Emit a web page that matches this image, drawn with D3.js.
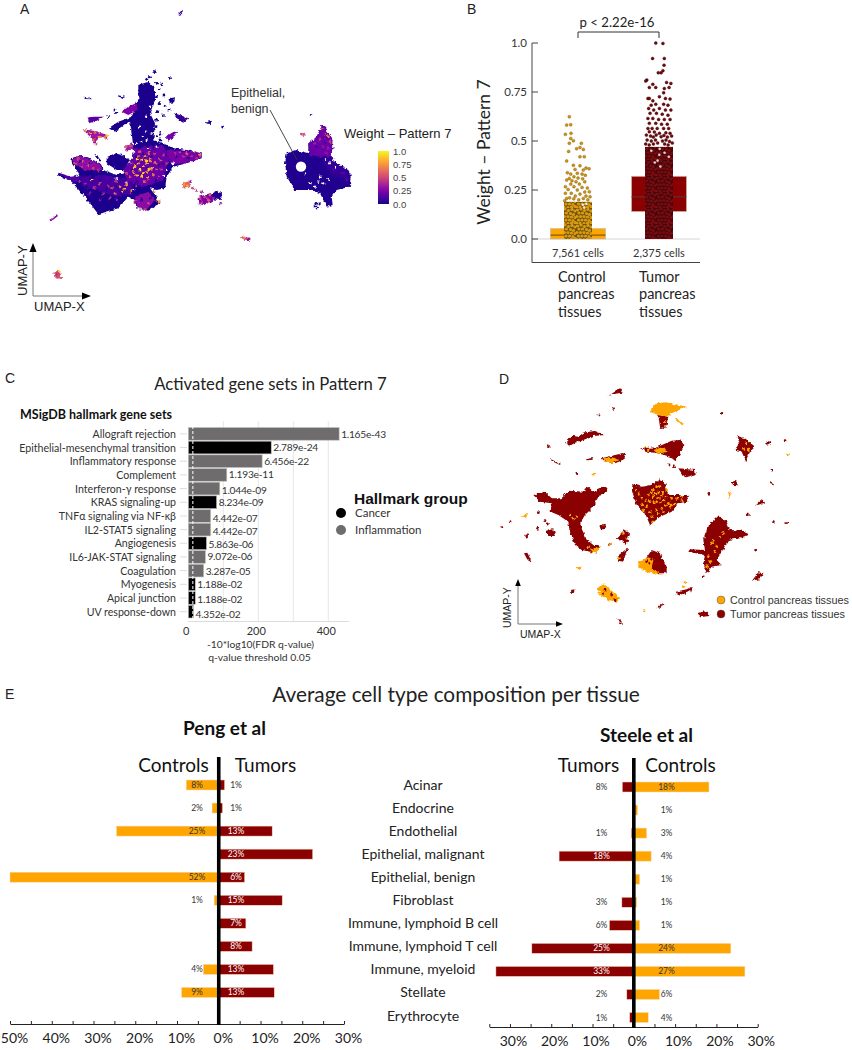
<!DOCTYPE html>
<html>
<head>
<meta charset="utf-8">
<script src="https://cdn.jsdelivr.net/npm/d3@7"></script>
<style>
body { margin: 0; background: #fff; }
text { font-family: Lato, "Noto Sans", sans-serif; fill: #222; }
.arial { font-family: "Liberation Sans", Arial, sans-serif; }
</style>
</head>
<body>
<svg id="chart" width="852" height="1050"></svg>
<script>
// colors
var colorControl = '#FFA500',
    colorTumor = '#8B0000',
    colorInflam = '#6e6c6c',
    colorCancer = '#000';

// Panel A, traced outlines of the UMAP islands: [weight, outline]
var umapA_regions = [
  [0.02, [[415,255],[445,245],[465,265],[465,300],[450,340],[465,370],[460,420],[490,430],[520,445],[560,450],[605,460],[605,475],[560,490],[520,500],[500,530],[495,565],[470,570],[450,565],[470,590],[478,610],[445,632],[410,625],[405,600],[385,590],[355,625],[295,643],[270,610],[232,565],[215,545],[175,525],[175,518],[215,530],[240,525],[215,490],[215,475],[240,465],[270,478],[300,490],[310,510],[350,525],[375,520],[395,480],[400,440],[395,400],[390,365],[345,395],[325,385],[355,365],[395,350],[415,300]]],
  [0.02, [[345,460],[365,465],[390,480],[375,510],[350,510],[320,490],[320,472]]],
  [0.19, [[400,445],[490,435],[510,470],[490,540],[430,560],[380,540],[370,510],[395,480]]],
  [0.24, [[500,450],[560,452],[605,462],[603,474],[560,488],[515,495]]],
  [0.30, [[215,478],[240,467],[270,480],[300,492],[305,510],[260,512],[225,495]]],
  [0.11, [[240,530],[300,525],[350,530],[400,545],[400,580],[350,590],[290,570],[250,565]]],
  [0.15, [[178,520],[215,532],[240,528],[235,545],[205,540]]],
  [0.28, [[405,590],[445,575],[465,600],[440,630],[412,622]]],
  [0.10, [[535,42],[546,29],[549,33],[540,45]]],
  [0.02, [[456,210],[468,212],[470,219],[458,218]]],
  [0.03, [[250,290],[272,293],[275,298],[255,297]]],
  [0.03, [[354,286],[375,290],[372,294],[356,291]]],
  [0.25, [[365,335],[385,320],[410,308],[412,330],[385,345]]],
  [0.16, [[262,352],[285,350],[312,350],[285,365],[268,370]]],
  [0.34, [[248,388],[285,393],[322,405],[326,418],[296,410],[288,433],[270,410]]],
  [0.02, [[505,295],[525,292],[522,310],[510,312]]],
  [0.07, [[522,340],[540,345],[565,355],[550,368],[530,358]]],
  [0.22, [[498,412],[515,398],[532,392],[522,412],[505,422]]],
  [0.36, [[372,440],[395,430],[402,448],[378,452]]],
  [0.02, [[618,365],[635,362],[636,372],[620,371]]],
  [0.30, [[145,662],[170,643],[174,648],[150,667]]],
  [0.60, [[545,550],[568,544],[572,562],[552,566]]],
  [0.03, [[630,585],[650,572],[666,582],[662,600],[635,598]]],
  [0.26, [[592,592],[635,578],[640,602],[610,616],[595,610]]],
  [0.45, [[720,709],[735,712],[752,715],[750,722],[730,718]]],
  [0.50, [[158,815],[178,812],[186,834],[170,836]]],
  [0.03, [[860,460],[890,450],[925,460],[925,430],[950,410],[965,378],[975,378],[985,400],[997,420],[995,470],[1010,490],[1040,505],[1052,525],[1050,560],[1010,570],[995,590],[998,615],[980,620],[960,580],[935,570],[885,570],[860,530],[855,490]]],
  [0.20, [[925,432],[950,410],[965,378],[975,378],[985,400],[997,420],[995,470],[960,470],[930,465]]],
  [0.07, [[995,470],[1010,490],[1040,505],[1050,540],[1000,530],[965,480]]],
  [0.50, [[900,398],[912,400],[914,408],[902,406]]]
];

// Panel A, single cells: [x, y, weight]
var umapA_cells = [
  [405,500,.9],[415,490,.8],[425,480,.85],[435,470,.7],[420,510,.95],[430,500,.85],[440,490,.8],[450,480,.7],[410,525,.85],[425,530,.9],
  [440,515,.75],[455,505,.8],[465,490,.6],[445,535,.7],[460,525,.65],[470,510,.6],[400,515,.7],[415,470,.6],[445,460,.6],[390,530,.6],
  [480,480,.55],[475,530,.5],[435,545,.6],[420,455,.55],[465,460,.5],[490,465,.45],[500,490,.4],[485,510,.5],[395,490,.5],[380,520,.5],
  [430,520,.9],[412,478,.95],[447,508,.9],[438,482,.9],
  [365,575,.9],[372,568,.85],[360,560,.7],[345,580,.6],[335,565,.5],[350,545,.55],[325,560,.45],[300,550,.5],[275,538,.95],[285,565,.4],
  [310,580,.4],[255,550,.4],[240,545,.45],[380,555,.7],[395,575,.7],[410,560,.5],[330,595,.4],[300,600,.3],[350,600,.35],[270,580,.3],
  [470,600,.85],[462,575,.6],[478,605,.7],[445,610,.5],[420,625,.5],[435,628,.45],[405,608,.4],
  [235,475,.5],[250,485,.6],[265,495,.55],[280,505,.5],[245,500,.45],[225,490,.5],[295,510,.4],
  [255,392,.7],[270,400,.8],[285,398,.6],[300,410,.7],[320,408,.85],[315,415,.7],[280,420,.6],[288,432,.55],
  [540,455,.5],[560,460,.55],[585,455,.6],[600,465,.65],[575,470,.45],[550,470,.4],[590,475,.4],[525,460,.4],
  [378,440,.6],[390,440,.5],
  [552,552,.75],[562,558,.8],[572,545,.3],[555,560,.6],[580,565,.5],[590,572,.45],[605,575,.4],
  [600,595,.5],[615,590,.5],[630,585,.6],[605,608,.45],[640,595,.35],[625,600,.55],[598,610,.4],[662,610,.3],
  [725,712,.6],[733,714,.7],[745,717,.3],
  [165,818,.65],[178,815,.9],[172,825,.5],[180,832,.6],[168,822,.4],
  [965,385,.55],[985,410,.7],[975,400,.5],[990,425,.45],[960,420,.4],[945,430,.35],[970,440,.3],[985,445,.35],[955,450,.25],[980,460,.3],
  [1030,520,.2],[1000,510,.15],[1040,540,.2],
  // darker cells that break up the warmer patches
  [408,470,.04],[430,460,.05],[455,470,.05],[475,495,.06],[490,490,.05],[470,540,.05],[410,545,.05],[395,510,.05],[440,505,.1],[460,445,.05],
  [500,465,.06],[530,470,.05],[565,475,.05],[300,540,.03],[320,570,.03],[345,560,.03],[370,590,.03],[260,560,.03],[280,530,.03],[240,485,.06],
  [270,490,.08],[425,600,.06],[450,595,.08],[950,440,.05],[975,425,.08],[1000,445,.05],
  [440,238,.02],[448,232,.02],[470,250,.02],[485,252,.02],[508,235,.02],[478,268,.02],[492,285,.02],[470,290,.02],[478,310,.02],[495,320,.02],
  [507,330,.02],[472,335,.02],[490,348,.02],[470,360,.02],[468,380,.02],[482,400,.02],[480,420,.02],[470,410,.02],[345,330,.02],[350,340,.02],
  [325,350,.02],[290,470,.02],[300,480,.02],[668,381,.02],[932,343,.02],[945,618,.02],[952,625,.02],[948,610,.02],[958,612,.02]
];
var umapA_gaps = [
  [440,420],[455,400],[420,380],[470,440],[410,430],[425,425],[400,455],[435,395],[445,445],[450,320],[438,350],[428,410],[380,545],[400,570],[350,535],[490,525],[500,510],[520,490],
  [975,480],[990,490],[1000,480],[960,530],[945,560],[970,550],[985,540],[1020,495],[930,550],[915,520],[955,545],[1005,500]
];

// Panel A colour bar
var weightTicks = [0, 0.25, 0.5, 0.75, 1],
    weightTickLabels = ['0.0', '0.25', '0.5', '0.75', '1.0'];

// Panel B
var groups = ['Control', 'Tumor'],
    groupLabels = [['Control', 'pancreas', 'tissues'], ['Tumor', 'pancreas', 'tissues']],
    groupCounts = ['7,561 cells', '2,375 cells'],
    weightAxisTicks = [0, 0.25, 0.5, 0.75, 1],
    weightAxisLabels = ['0.0', '0.25', '0.5', '0.75', '1.0'],
    boxLow = [0, 0.14],
    boxMedian = [0.02, 0.215],
    boxHigh = [0.053, 0.32],
    denseTop = [0.19, 0.47];

// strip points above the dense part: [jitter, weight]
var controlCells = [
  [-.62,.624],[-.81,.581],[-.52,.583],[-.90,.534],[-.5,.539],[-.52,.513],[-.33,.501],[-.62,.488],[.24,.488],[.14,.467],[-.10,.461],[.38,.457],
  [-.67,.447],[.14,.420],[.45,.420],[-.81,.398],[-.33,.376],[.14,.374],[.57,.362],[.79,.359],[-.21,.355],[.38,.352],[-.76,.338],[-.52,.331],
  [-.05,.335],[.29,.331],[.52,.325],[-.62,.309],[-.29,.318],[0,.311],[.33,.307],[-.81,.301],[-.43,.297],[-.14,.292],[.48,.292],[-.52,.280],
  [.1,.280],[-.9,.267],[-.29,.267],[.29,.263],[.67,.260],[-.71,.253],[-.05,.250],[.48,.240],[.81,.241],[-.9,.233],[-.48,.233],[.14,.229],
  [-.19,.219],[.57,.219],[.86,.216],[-.81,.207],[.38,.207],[-.6,.21],[-.3,.205],[.05,.2],[.7,.2],[-.95,.195]
];
var tumorCells = [
  [-.23,1],[.28,.998],[-.46,.921],[.38,.921],[.36,.887],[.28,.859],[-.05,.848],[.15,.848],[-.87,.811],[-.95,.806],[-.44,.789],[.54,.799],
  [.85,.794],[-.69,.773],[-.23,.773],[.72,.773],[.38,.768],[.33,.746],[-.79,.717],[-.69,.717],[-.44,.705],[.46,.717],[.79,.714],[.03,.726],
  [-.56,.683],[-.23,.688],[.33,.688],[.64,.683],[-.74,.666],[-.38,.658],[.03,.666],[.46,.658],[.85,.658],[-.64,.641],[-.18,.641],[.23,.637],
  [.64,.632],[-.79,.615],[-.44,.615],[-.03,.610],[.38,.610],[.79,.610],[-.69,.590],[-.23,.590],[.18,.586],[.59,.586],[-.79,.564],[-.49,.564],
  [-.13,.564],[.33,.564],[.69,.564],[-.69,.547],[-.33,.546],[.03,.539],[.49,.542],[.79,.539],[-.9,.53],[-.6,.525],[-.4,.52],[-.2,.53],[.15,.522],
  [.35,.528],[.6,.52],[.9,.525],[-.85,.505],[-.55,.5],[-.25,.505],[.25,.5],[.5,.505],[.75,.498],[-.95,.485],[-.7,.48],[-.4,.485],[-.1,.49],[.4,.485],[.65,.48],[.95,.49]
];
var tumorGaps = [[.05,.46],[.02,.43],[-.1,.40],[.4,.44],[-.55,.45],[.7,.42],[.1,.37],[-.3,.39]];
var controlGaps = [[.35,.175],[.6,.18],[.45,.16]];

// irregular tile for the part of each strip where cells overlap completely
var denseTile = [[1.5,2],[5,1],[8.5,2.5],[12,1.5],[15,3],[3,5],[6.5,5],[10.5,5.5],[13.5,6.5],[1,8.5],[4.5,8.5],[8,8.5],[11.5,9],[15,9.5],[2.5,12],[6,12],[9.5,12],[13,12.5],[0.5,15],[4,15],[8,15.5],[11.5,15],[15,14.5]];

// Panel C
var hallmarkSets = ['Allograft rejection', 'Epithelial-mesenchymal transition', 'Inflammatory response', 'Complement', 'Interferon-γ response', 'KRAS signaling-up', 'TNFα signaling via NF-κβ', 'IL2-STAT5 signaling', 'Angiogenesis', 'IL6-JAK-STAT signaling', 'Coagulation', 'Myogenesis', 'Apical junction', 'UV response-down'],
    hallmarkGroups = ['Inflammation', 'Cancer', 'Inflammation', 'Inflammation', 'Inflammation', 'Cancer', 'Inflammation', 'Inflammation', 'Cancer', 'Inflammation', 'Inflammation', 'Cancer', 'Cancer', 'Cancer'],
    hallmarkScores = [431, 237, 211, 110, 90, 81, 64, 64, 52, 49, 44, 20, 20, 15],
    hallmarkLabels = ['1.165e-43', '2.789e-24', '6.456e-22', '1.193e-11', '1.044e-09', '8.234e-09', '4.442e-07', '4.442e-07', '5.863e-06', '9.072e-06', '3.287e-05', '1.188e-02', '1.188e-02', '4.352e-02'],
    hallmarkLabelNudge = [0, -1, 0, -1, 1, 0, 2, 1, 1, -1, 0, 0, 1, 2],
    scoreGrid = [100, 200, 300, 400],
    scoreTicks = [0, 200, 400],
    qThreshold = 13;

// Panel D, traced outlines in UMAP units
var umapD_tumor = [
  [[130,375],[165,365],[185,385],[215,385],[235,362],[285,365],[292,348],[310,365],[345,350],[355,362],[325,380],[310,410],[285,435],[270,460],[285,505],[310,525],[330,525],[318,550],[300,545],[275,540],[255,525],[238,480],[235,455],[205,435],[182,425],[185,400],[150,395]],
  [[428,342],[455,350],[480,345],[510,328],[525,340],[535,375],[598,375],[590,395],[565,400],[545,425],[510,440],[480,465],[465,430],[440,405],[425,360]],
  [[685,438],[710,455],[720,480],[765,483],[772,495],[750,505],[715,510],[695,545],[680,570],[695,585],[665,590],[650,610],[640,580],[645,555],[595,545],[600,538],[645,540],[640,510],[655,465]],
  [[485,540],[510,550],[530,590],[530,610],[505,610],[480,600],[465,570]],
  [[228,215],[245,197],[265,200],[285,187],[315,183],[345,195],[310,198],[280,210],[255,218],[235,230]],
  [[450,235],[500,232],[545,212],[570,210],[583,225],[570,255],[555,272],[540,260],[505,250],[470,245]],
  [[335,265],[375,255],[405,248],[400,270],[375,280],[345,275]],
  [[355,78],[390,55],[398,68],[370,72]],
  [[565,295],[615,300],[617,312],[590,322],[578,315]],
  [[742,198],[765,205],[795,230],[780,245],[768,275],[755,245],[737,240],[748,215]],
  [[825,220],[843,213],[843,220],[830,224]],
  [[288,268],[308,264],[308,269],[290,271]],
  [[183,268],[212,281],[210,285],[185,273]],
  [[168,482],[190,478],[198,498],[175,498]],
  [[328,467],[347,464],[347,478],[332,478]],
  [[375,505],[395,495],[400,478],[420,490],[412,510],[408,522],[395,512]],
  [[380,560],[405,540],[415,535],[405,555],[400,575],[385,572]],
  [[102,550],[112,548],[125,575],[110,565]],
  [[557,665],[590,658],[605,650],[600,665],[565,677]],
  [[786,632],[805,607],[820,610],[810,628]],
  [[625,728],[650,722],[658,738],[630,742]],
  [[723,337],[738,333],[746,346],[730,345]],
  [[795,405],[815,388],[825,398],[805,404]],
  [[840,337],[852,343],[850,346],[840,342]],
  [[243,660],[253,658],[253,668],[244,670]],
  [[500,715],[518,700],[520,704],[503,718]],
  [[382,746],[386,745],[396,760],[392,763]],
  [[505,135],[535,140],[530,165],[520,178],[510,170]]
];
var umapD_control = [
  [[495,100],[530,97],[590,110],[545,130],[535,140],[505,135],[490,130],[480,125]],
  [[555,145],[560,143],[582,163],[576,166]],
  [[445,575],[475,562],[490,570],[485,595],[510,610],[520,615],[470,607],[445,590]],
  [[490,240],[520,232],[530,245],[505,252]],
  [[340,265],[370,262],[385,270],[368,280],[345,275]],
  [[322,655],[340,640],[390,685],[380,698],[355,690],[330,675]],
  [[95,440],[115,428],[108,443]],
  [[258,592],[278,590],[268,600]],
  [[712,365],[722,370],[716,390]],
  [[305,312],[318,312],[318,316],[305,316]],
  [[300,548],[318,532],[328,528],[318,550]]
];
var umapD_tumorCells = [
  [370,115],[327,135],[696,130],[175,230],[260,310],[537,285],[553,290],[657,370],[885,212],[846,300],[60,455],[35,472],[145,428],[172,462],[143,475],
  [110,498],[165,452],[890,458],[850,455],[775,435],[797,540],[340,670],[345,660],[365,675],[375,690],
  [480,580],[495,575],[500,590],[470,575],[640,620],[410,515],[390,510],[360,523]
];
var umapD_controlCells = [
  [490,380],[475,375],[480,395],[510,350],[470,410],[500,420],[485,440],[545,385],[560,385],[520,425],[455,385],[445,370],[460,420],[490,455],[575,380],
  [575,392],[440,360],[530,360],[500,395],[515,415],[500,350],[490,360],
  [498,372],[506,366],[514,378],[522,390],[505,386],[492,398],[512,398],[526,406],[535,400],[545,405],[555,402],[540,412],[518,368],[528,380],[484,368],[468,392],[455,405],[478,425],[505,432],
  [680,530],[675,545],[660,575],[670,510],[690,500],[650,590],[655,560],[665,520],[700,490],
  [893,254],[462,722],[362,522],[410,505],[400,490],[385,565],[770,220],[760,235],[775,240],[490,125],[525,155],
  [260,440],[250,445],[240,435],[296,530],[305,540],[588,638],[580,650],[475,240],[465,232]
];

// Panel E
var cellTypes = ['Acinar', 'Endocrine', 'Endothelial', 'Epithelial, malignant', 'Epithelial, benign', 'Fibroblast', 'Immune, lymphoid B cell', 'Immune, lymphoid T cell', 'Immune, myeloid', 'Stellate', 'Erythrocyte'];
var pengControls = [7.8, 1.6, 24.5, 0, 50, 1.1, 0, 0, 3.7, 8.9, 0],
    pengTumors = [1.4, 0.9, 12.8, 22.5, 6.2, 15.2, 6.5, 8, 13.1, 13.3, 0],
    pengControlLabels = ['8%', '2%', '25%', '', '52%', '1%', '', '', '4%', '9%', ''],
    pengTumorLabels = ['1%', '1%', '13%', '23%', '6%', '15%', '7%', '8%', '13%', '13%', ''],
    steeleTumors = [2.8, 0, 0.6, 18.1, 0, 2.9, 5.9, 24.7, 33.4, 1.7, 1],
    steeleControls = [18.2, 0.9, 3.1, 4.2, 1.4, 0.7, 1.4, 23.5, 26.9, 6.2, 3.5],
    steeleTumorLabels = ['8%', '', '1%', '18%', '', '3%', '6%', '25%', '33%', '2%', '1%'],
    steeleControlLabels = ['18%', '1%', '3%', '4%', '1%', '1%', '1%', '24%', '27%', '6%', '4%'],
    pengTicks = d3.range(-50, 31, 5),
    steeleTicks = d3.range(-35, 31, 5);

var svg = d3.select('#chart');
var defs = svg.append('defs');

// slight wobble and softness so traced outlines look like clouds of cells
var rough = defs.append('filter').attr('id', 'rough')
    .attr('filterUnits', 'userSpaceOnUse')
    .attr('x', 0).attr('y', 0).attr('width', 852).attr('height', 1050);
rough.append('feTurbulence').attr('type', 'fractalNoise').attr('baseFrequency', 0.3).attr('numOctaves', 2).attr('seed', 4).attr('result', 'n');
rough.append('feDisplacementMap').attr('in', 'SourceGraphic').attr('in2', 'n').attr('scale', 4).attr('xChannelSelector', 'R').attr('yChannelSelector', 'G').attr('result', 'd');
rough.append('feGaussianBlur').attr('in', 'd').attr('stdDeviation', 0.3);

function label(x, y, str, size, opts) {
  opts = opts || {};
  var t = svg.append('text')
      .attr('x', x).attr('y', y)
      .attr('font-size', size)
      .attr('text-anchor', opts.anchor || 'start')
      .text(str);
  if (opts.cls) t.attr('class', opts.cls);
  if (opts.weight) t.attr('font-weight', opts.weight);
  if (opts.fill) t.style('fill', opts.fill);
  if (opts.spacing) t.style('letter-spacing', opts.spacing + 'px');
  if (opts.rotate) t.attr('transform', 'rotate(-90 ' + x + ' ' + y + ')');
  return t;
}

function umapArrows(x0, y0, x1, y1, headSize, stroke) {
  svg.append('path').attr('d', 'M' + x0 + ',' + y1 + 'V' + y0 + 'H' + x1)
      .attr('fill', 'none').attr('stroke', stroke).attr('stroke-width', 1);
  svg.append('path').attr('fill', '#000')
      .attr('d', 'M' + x0 + ',' + (y1 - headSize) + 'l' + (-headSize / 2.5) + ',' + headSize + 'h' + (headSize / 1.25) + 'z');
  svg.append('path').attr('fill', '#000')
      .attr('d', 'M' + (x1 + headSize) + ',' + y0 + 'l' + (-headSize) + ',' + (-headSize / 2.5) + 'v' + (headSize / 1.25) + 'z');
}

//
// A
//
var xA = d3.scaleLinear().domain([0, 1290]).range([0, 430]),
    yA = d3.scaleLinear().domain([0, 990]).range([0, 330]),
    lineA = d3.line().x(function(d) { return xA(d[0]); }).y(function(d) { return yA(d[1]); }).curve(d3.curveLinearClosed),
    gA = svg.append('g').attr('filter', 'url(#rough)');

gA.selectAll('path').data(umapA_regions).join('path')
    .attr('d', function(d) { return lineA(d[1]); })
    .attr('fill', function(d) { return d3.interpolatePlasma(d[0]); });
gA.selectAll('circle.cell').data(umapA_cells).join('circle').attr('class', 'cell')
    .attr('cx', function(d) { return xA(d[0]); }).attr('cy', function(d) { return yA(d[1]); })
    .attr('r', 1.4).attr('fill', function(d) { return d3.interpolatePlasma(d[2]); });
gA.selectAll('circle.gap').data(umapA_gaps).join('circle').attr('class', 'gap')
    .attr('cx', function(d) { return xA(d[0]); }).attr('cy', function(d) { return yA(d[1]); })
    .attr('r', 1.1).attr('fill', '#fff');

svg.append('circle').attr('cx', xA(903)).attr('cy', yA(500)).attr('r', 5.2).attr('fill', '#fff');
svg.append('line').attr('x1', 270).attr('y1', 110).attr('x2', 297).attr('y2', 160).attr('stroke', '#333').attr('stroke-width', 0.9);

label(231, 97, 'Epithelial,', 12.5, {cls: 'arial', fill: '#333'});
label(231, 113, 'benign', 12.5, {cls: 'arial', fill: '#333'});
label(344, 138, 'Weight – Pattern 7', 13, {cls: 'arial', fill: '#222'});

var barScale = d3.scaleLinear().domain([0, 1]).range([204, 151]);
var grad = defs.append('linearGradient').attr('id', 'plasma').attr('x1', 0).attr('y1', 1).attr('x2', 0).attr('y2', 0);
d3.range(0, 1.01, 0.1).forEach(function(t) {
  grad.append('stop').attr('offset', t).attr('stop-color', d3.interpolatePlasma(t));
});
svg.append('rect').attr('x', 378).attr('y', barScale(1)).attr('width', 11).attr('height', barScale(0) - barScale(1)).attr('fill', 'url(#plasma)');
weightTicks.forEach(function(t, i) {
  label(393, barScale(t) + 3.5, weightTickLabels[i], 9.5, {cls: 'arial', fill: '#444'});
});

umapArrows(33, 296, 82, 252, 9, '#777');
label(34, 311, 'UMAP-X', 13, {cls: 'arial', fill: '#222'});
label(27, 296, 'UMAP-Y', 13, {cls: 'arial', fill: '#222', rotate: true});

//
// B
//
var xB = d3.scalePoint().domain(groups).range([578, 659]),
    yB = d3.scaleLinear().domain([0, 1]).range([239, 43]),
    jitter = d3.scaleLinear().domain([-1, 1]).range([-14, 14]);

svg.append('line').attr('x1', 532).attr('x2', 700).attr('y1', yB(0)).attr('y2', yB(0)).attr('stroke', '#d5d5d5').attr('stroke-width', 1.2);

function dotPattern(id, ground, dot) {
  var p = defs.append('pattern').attr('id', id).attr('patternUnits', 'userSpaceOnUse').attr('width', 16).attr('height', 16);
  p.append('rect').attr('width', 16).attr('height', 16).attr('fill', ground);
  p.selectAll('circle').data(denseTile).join('circle')
      .attr('cx', function(d) { return d[0]; }).attr('cy', function(d) { return d[1]; })
      .attr('r', 1.6).attr('fill', dot);
}
dotPattern('denseControl', '#6d5310', '#dc9a10');
dotPattern('denseTumor', '#3e0608', '#780a10');

var groupColors = [colorControl, colorTumor],
    stripColors = ['#cf9214', '#6e0a0e'],
    stripEdges = ['#7d5f12', '#3e0608'],
    patterns = ['denseControl', 'denseTumor'];

groups.forEach(function(g, i) {
  var cx = xB(g);
  svg.append('rect').attr('x', cx - 27.5).attr('width', 55)
      .attr('y', yB(boxHigh[i])).attr('height', yB(boxLow[i]) - yB(boxHigh[i]))
      .attr('fill', groupColors[i]).attr('stroke', '#c9b9a9').attr('stroke-width', 0.7);
  svg.append('line').attr('x1', cx - 27.5).attr('x2', cx + 27.5).attr('y1', yB(boxMedian[i])).attr('y2', yB(boxMedian[i]))
      .attr('stroke', i ? '#5c3a3a' : '#5e4a10').attr('stroke-width', 1);
  svg.append('rect').attr('x', cx + jitter(-1)).attr('width', jitter(1) - jitter(-1))
      .attr('y', yB(denseTop[i])).attr('height', yB(0) - yB(denseTop[i]))
      .attr('fill', 'url(#' + patterns[i] + ')');
  label(cx, 257, groupCounts[i], 11, {anchor: 'middle', fill: '#333'});
  groupLabels[i].forEach(function(l, k) {
    label(cx - 20, 282 + k * 17.3, l, 14.5, {fill: '#222'});
  });
});

[controlCells, tumorCells].forEach(function(cells, i) {
  svg.append('g').selectAll('circle').data(cells).join('circle')
      .attr('cx', function(d) { return xB(groups[i]) + jitter(d[0]); })
      .attr('cy', function(d) { return yB(d[1]); })
      .attr('r', 1.5)
      .attr('fill', stripColors[i])
      .attr('stroke', stripEdges[i]).attr('stroke-width', 0.4);
});
[controlGaps, tumorGaps].forEach(function(cells, i) {
  svg.append('g').selectAll('circle').data(cells).join('circle')
      .attr('cx', function(d) { return xB(groups[i]) + jitter(d[0]); })
      .attr('cy', function(d) { return yB(d[1]); })
      .attr('r', 1.3).attr('fill', '#fff').attr('opacity', 0.8);
});

var axisB = d3.axisLeft(yB).tickValues(weightAxisTicks)
    .tickFormat(function(d, i) { return weightAxisLabels[i]; })
    .tickSize(0).tickPadding(5);
var gB = svg.append('g').attr('transform', 'translate(532,0)').call(axisB);
gB.select('.domain').remove();
gB.selectAll('text').attr('font-size', 11.5).style('font-family', 'Lato').style('fill', '#333');
svg.append('path').attr('d', 'M532,43V262.5H700').attr('fill', 'none').attr('stroke', '#444').attr('stroke-width', 1);
svg.selectAll('line.tickB').data(weightAxisTicks).join('line').attr('class', 'tickB')
    .attr('x1', 532).attr('x2', 538).attr('y1', function(d) { return yB(d); }).attr('y2', function(d) { return yB(d); })
    .attr('stroke', '#444');
svg.append('path').attr('d', 'M' + xB('Control') + ',38V32H' + xB('Tumor') + 'V38').attr('fill', 'none').attr('stroke', '#333');
label(617, 27, 'p < 2.22e-16', 13.2, {anchor: 'middle', fill: '#222'});
label(490, 152, 'Weight – Pattern 7', 17.5, {anchor: 'middle', fill: '#222', rotate: true});

//
// C
//
var xC = d3.scaleLinear().domain([0, 400]).range([188.3, 328.3]),
    yC = d3.scaleBand().domain(hallmarkSets).range([427.5, 618]).paddingInner(0.07);

svg.selectAll('line.gridC').data(scoreGrid).join('line').attr('class', 'gridC')
    .attr('x1', function(d) { return xC(d); }).attr('x2', function(d) { return xC(d); })
    .attr('y1', 421).attr('y2', 621).attr('stroke', '#e6e6e6').attr('stroke-width', 1);
svg.append('line').attr('x1', 188).attr('x2', 349).attr('y1', 621.5).attr('y2', 621.5).attr('stroke', '#dcdcdc').attr('stroke-width', 1.2);

svg.selectAll('rect.hall').data(hallmarkSets).join('rect').attr('class', 'hall')
    .attr('x', xC(0))
    .attr('y', function(d) { return yC(d); })
    .attr('width', function(d, i) { return xC(hallmarkScores[i]) - xC(0); })
    .attr('height', yC.bandwidth())
    .attr('fill', function(d, i) { return hallmarkGroups[i] === 'Cancer' ? colorCancer : colorInflam; })
    .attr('stroke', '#c4c4c4').attr('stroke-width', 0.6);

svg.append('line').attr('x1', xC(qThreshold)).attr('x2', xC(qThreshold)).attr('y1', 421).attr('y2', 621)
    .attr('stroke', '#fff').attr('stroke-width', 1).attr('stroke-dasharray', '3,2');

hallmarkSets.forEach(function(s, i) {
  var yc = yC(s) + yC.bandwidth() / 2;
  svg.append('line').attr('x1', 180).attr('x2', 187).attr('y1', yc).attr('y2', yc).attr('stroke', '#ddd');
  label(176, yc + 4, s, 10.6, {anchor: 'end', fill: '#333'});
  label(xC(hallmarkScores[i]) + 2, yc + 4 + hallmarkLabelNudge[i], hallmarkLabels[i], 10.2, {fill: '#333', spacing: -0.25});
});
scoreTicks.forEach(function(t) {
  label(xC(t) - 2, 635, t, 11, {anchor: 'middle', fill: '#333'});
});
label(260.5, 648, '-10*log10(FDR q-value)', 10.3, {anchor: 'middle', fill: '#333'});
label(259.5, 661, 'q-value threshold 0.05', 10.4, {anchor: 'middle', fill: '#333'});
label(20, 419, 'MSigDB hallmark gene sets', 12.5, {weight: 700, fill: '#111'});
label(270.5, 390, 'Activated gene sets in Pattern 7', 16.7, {anchor: 'middle', fill: '#222'});
label(354, 504, 'Hallmark group', 15.5, {cls: 'arial', weight: 700, fill: '#111'});
[['Cancer', colorCancer, 513], ['Inflammation', colorInflam, 530]].forEach(function(l) {
  svg.append('circle').attr('cx', 341).attr('cy', l[2]).attr('r', 5).attr('fill', l[1]);
  label(355, l[2] + 4, l[0], 11.5, {fill: '#333'});
});

//
// D
//
var xD = d3.scaleLinear().domain([0, 1086]).range([490, 852]),
    yD = d3.scaleLinear().domain([0, 870]).range([370, 660]),
    lineD = d3.line().x(function(d) { return xD(d[0]); }).y(function(d) { return yD(d[1]); }).curve(d3.curveLinearClosed),
    gD = svg.append('g').attr('filter', 'url(#rough)');

gD.append('g').selectAll('path').data(umapD_tumor).join('path').attr('d', lineD).attr('fill', colorTumor);
gD.append('g').selectAll('path').data(umapD_control).join('path').attr('d', lineD).attr('fill', colorControl);
gD.append('g').selectAll('circle').data(umapD_tumorCells).join('circle')
    .attr('cx', function(d) { return xD(d[0]); }).attr('cy', function(d) { return yD(d[1]); })
    .attr('r', 1.4).attr('fill', colorTumor);
gD.append('g').selectAll('circle').data(umapD_controlCells).join('circle')
    .attr('cx', function(d) { return xD(d[0]); }).attr('cy', function(d) { return yD(d[1]); })
    .attr('r', 1.3).attr('fill', colorControl);

umapArrows(518, 624, 556, 586, 7, '#777');
label(520, 638, 'UMAP-X', 10.5, {cls: 'arial', fill: '#222'});
label(511, 628, 'UMAP-Y', 10.5, {cls: 'arial', fill: '#222', rotate: true});
[['Control pancreas tissues', colorControl, 600], ['Tumor pancreas tissues', colorTumor, 614]].forEach(function(l) {
  svg.append('circle').attr('cx', 721).attr('cy', l[2]).attr('r', 4).attr('fill', l[1]).attr('stroke', '#555').attr('stroke-width', 0.5);
  label(730, l[2] + 4, l[0], 10.8, {cls: 'arial', fill: '#333'});
});

//
// E
//
var yE = d3.scalePoint().domain(cellTypes).range([785, 1015.5]);

function butterfly(cfg) {
  var x = d3.scaleLinear().domain(cfg.domain).range(cfg.range),
      g = svg.append('g');

  function side(values, labels, color, sign, labelX) {
    g.append('g').selectAll('rect').data(cellTypes).join('rect')
        .attr('x', function(d, i) { return sign < 0 ? x(-values[i]) : x(0); })
        .attr('y', function(d) { return yE(d) + cfg.barDy - 5; })
        .attr('width', function(d, i) { return Math.abs(x(values[i]) - x(0)); })
        .attr('height', function(d, i) { return values[i] > 0 ? 10 : 0; })
        .attr('fill', color).attr('stroke', '#f3dcc0').attr('stroke-width', 0.5);
    cellTypes.forEach(function(c, i) {
      if (!labels[i]) return;
      var reach = Math.abs(x(values[i]) - x(0)),
          inside = Math.abs(labelX - x(0)) < reach,
          onDark = inside && color === colorTumor;
      label(labelX, yE(c) + cfg.barDy + 3, labels[i], 8.5, {anchor: 'middle', fill: onDark ? '#fff' : '#333'});
    });
  }
  side(cfg.left, cfg.leftLabels, cfg.leftColor, -1, cfg.leftLabelX);
  side(cfg.right, cfg.rightLabels, cfg.rightColor, 1, cfg.rightLabelX);

  var axis = d3.axisBottom(x).tickValues(cfg.ticks)
      .tickFormat(function(d) { return d % 10 === 0 ? Math.abs(d) + '%' : ''; })
      .tickSizeInner(-3).tickSizeOuter(0).tickPadding(9);
  var ax = g.append('g').attr('transform', 'translate(0,' + cfg.axisY + ')').call(axis);
  ax.select('.domain').attr('stroke', '#222');
  ax.selectAll('line').attr('stroke', '#222');
  ax.selectAll('text').attr('font-size', 14).attr('dx', cfg.labelShift).style('font-family', 'Lato').style('fill', '#222');

  g.append('line').attr('x1', x(0)).attr('x2', x(0)).attr('y1', cfg.lineTop).attr('y2', cfg.axisY + 1)
      .attr('stroke', '#000').attr('stroke-width', 3.6);
}

butterfly({
  domain: [-50, 30], range: [10, 344], axisY: 1024, lineTop: 757, barDy: 0, labelShift: 4,
  ticks: pengTicks,
  left: pengControls, leftLabels: pengControlLabels, leftColor: colorControl, leftLabelX: 197,
  right: pengTumors, rightLabels: pengTumorLabels, rightColor: colorTumor, rightLabelX: 236
});
butterfly({
  domain: [-35, 30], range: [489.3, 757.7], axisY: 1027, lineTop: 758, barDy: 2, labelShift: 3,
  ticks: steeleTicks,
  left: steeleTumors, leftLabels: steeleTumorLabels, leftColor: colorTumor, leftLabelX: 601.5,
  right: steeleControls, rightLabels: steeleControlLabels, rightColor: colorControl, rightLabelX: 666.5
});

cellTypes.forEach(function(c) {
  label(423, yE(c) + 5, c, 14, {anchor: 'middle', fill: '#222'});
});
label(456, 702, 'Average cell type composition per tissue', 20.8, {anchor: 'middle', fill: '#222'});
label(224.5, 735, 'Peng et al', 19, {anchor: 'middle', weight: 700, fill: '#111'});
label(646.5, 742, 'Steele et al', 19, {anchor: 'middle', weight: 700, fill: '#111'});
label(173.5, 772, 'Controls', 19, {anchor: 'middle', fill: '#111'});
label(265.5, 772, 'Tumors', 19, {anchor: 'middle', fill: '#111'});
label(588.5, 772, 'Tumors', 19, {anchor: 'middle', fill: '#111'});
label(680.5, 772, 'Controls', 19, {anchor: 'middle', fill: '#111'});

// panel letters
[['A', 20, 14], ['B', 467, 14], ['C', 5, 383], ['D', 499, 384], ['E', 5, 699]].forEach(function(l) {
  label(l[1], l[2], l[0], 14, {cls: 'arial', fill: '#222'});
});
</script>
</body>
</html>
